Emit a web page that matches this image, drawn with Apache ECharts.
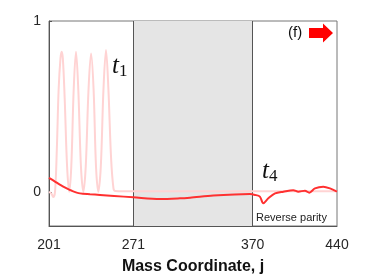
<!DOCTYPE html>
<html><head><meta charset="utf-8">
<script src="https://cdn.jsdelivr.net/npm/echarts@6/dist/echarts.min.js"></script>
<style>html,body{margin:0;padding:0;background:#fff}#c{width:374px;height:280px}</style>
</head><body><div id="c"></div>
<script>
var xTicks = [201, 271, 370, 440];
var yTicks = [0, 1];
var band = [271, 370];
var pinkJ = [201, 203, 204.5, 206, 207.5, 209, 210.5, 211.5, 212.5, 214, 216, 217.8, 219.5, 221.5, 223.4, 225.3, 227.5, 229.5, 231.5, 233.8, 235.9, 238, 240, 241.9, 244, 246.2, 248.3, 250.3, 252.5, 254.5, 256, 270, 300, 370, 440];
var pinkV = [0.0, -0.01, -0.03, 0.0, 0.25, 0.6, 0.78, 0.82, 0.78, 0.55, 0.15, 0.0, 0.15, 0.6, 0.82, 0.6, 0.15, 0.0, 0.15, 0.6, 0.81, 0.6, 0.15, 0.0, 0.15, 0.6, 0.83, 0.6, 0.2, 0.02, 0.005, 0.003, 0.003, 0.003, 0.003];
var redJ = [201, 206, 210, 215.7, 220, 226.7, 235, 243.3, 255, 271, 293, 309.7, 318, 337.3, 355, 367.8, 372, 376, 378.8, 383, 388.6, 395.5, 403.7, 407.9, 413.4, 417, 421.7, 428.6, 434.2, 440];
var redV = [0.082, 0.06, 0.042, 0.02, 0.006, -0.009, -0.014, -0.018, -0.024, -0.032, -0.042, -0.038, -0.034, -0.022, -0.015, -0.013, -0.018, -0.028, -0.067, -0.038, -0.009, 0.001, 0.01, 0.001, 0.007, -0.005, 0.02, 0.03, 0.02, 0.001];

function zip(a, b) { return a.map(function (v, i) { return [v, b[i]]; }); }

var chart = echarts.init(document.getElementById('c'), null, {renderer: 'canvas'});
var lab = {color: '#262626', fontFamily: 'Liberation Sans, Arial, sans-serif', fontSize: 14};
chart.setOption({
  animation: false,
  grid: {left: 49, right: 37, top: 21, bottom: 52, show: true, borderColor: '#777', borderWidth: 1, backgroundColor: 'transparent'},
  xAxis: {
    type: 'value', min: 201, max: 440,
    splitLine: {show: false},
    axisLine: {show: true, onZero: false, lineStyle: {color: '#555'}},
    axisTick: {show: false},
    axisLabel: Object.assign({customValues: xTicks, margin: 12}, lab),
    name: 'Mass Coordinate, j', nameLocation: 'middle', nameGap: 33,
    nameTextStyle: {color: '#111', fontFamily: 'Liberation Sans, Arial, sans-serif', fontSize: 16, fontWeight: 'bold'}
  },
  yAxis: {
    type: 'value', min: -0.2, max: 1,
    splitLine: {show: false},
    axisLine: {show: true, onZero: false, lineStyle: {color: '#555'}},
    axisTick: {show: true, inside: true, length: 3, customValues: yTicks, lineStyle: {color: '#555'}},
    axisLabel: Object.assign({customValues: yTicks, margin: 8}, lab)
  },
  series: [
    {
      type: 'line', data: [], z: 1, silent: true,
      markArea: {silent: true, itemStyle: {color: '#e5e5e5'}, data: [[{xAxis: band[0]}, {xAxis: band[1]}]]},
      markLine: {silent: true, symbol: 'none', label: {show: false}, lineStyle: {color: '#555', width: 1, type: 'solid'}, data: [{xAxis: band[0]}, {xAxis: band[1]}]}
    },
    {
      type: 'line', data: zip(pinkJ, pinkV), smooth: 0.35, showSymbol: false,
      lineStyle: {color: '#ffd3d3', width: 2}, zlevel: 1, z: 3
    },
    {
      type: 'line', data: zip(redJ, redV), smooth: 0.3, showSymbol: false,
      lineStyle: {color: '#ff3030', width: 2}, zlevel: 1, z: 4
    }
  ],
  graphic: [
    {type: 'text', left: 112, top: 54, style: {text: '{t|t}{s|1}', rich: {t: {fontFamily: 'Liberation Serif, serif', fontStyle: 'italic', fontSize: 25, fill: '#111'}, s: {fontFamily: 'Liberation Serif, serif', fontSize: 17, fill: '#111', padding: [10, 0, 0, 0]}}}},
    {type: 'text', left: 262, top: 159, style: {text: '{t|t}{s|4}', rich: {t: {fontFamily: 'Liberation Serif, serif', fontStyle: 'italic', fontSize: 25, fill: '#111'}, s: {fontFamily: 'Liberation Serif, serif', fontSize: 17, fill: '#111', padding: [10, 0, 0, 0]}}}},
    {type: 'text', left: 288, top: 25, style: {text: '(f)', fontFamily: 'Liberation Sans, Arial, sans-serif', fontSize: 15, fill: '#111'}},
    {type: 'polygon', shape: {points: [[309, 28], [323, 28], [323, 23.5], [333, 33], [323, 42.5], [323, 38], [309, 38]]}, style: {fill: '#ff0000'}},
    {type: 'text', left: 256, top: 212, style: {text: 'Reverse parity', fontFamily: 'Liberation Sans, Arial, sans-serif', fontSize: 11, fill: '#222'}}
  ]
});
</script>
</body></html>
